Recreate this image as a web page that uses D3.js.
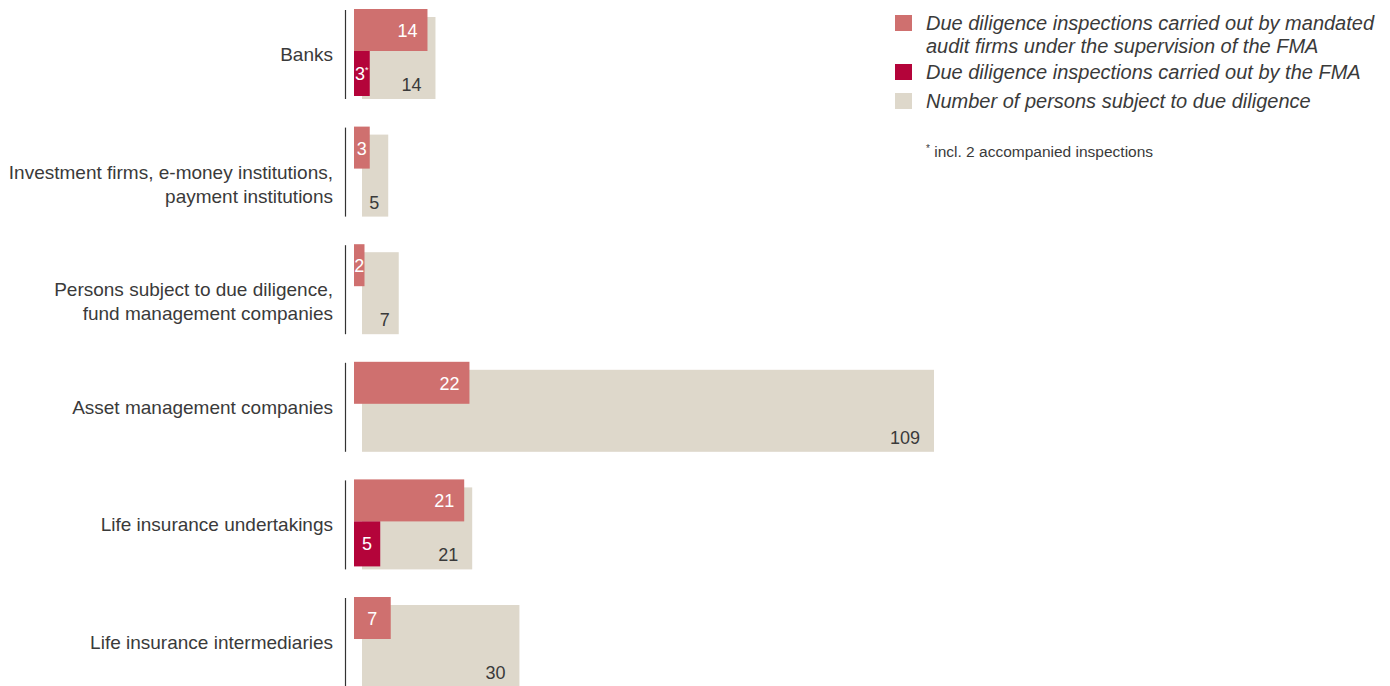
<!DOCTYPE html>
<html>
<head>
<meta charset="utf-8">
<script src="https://cdn.jsdelivr.net/npm/d3@7.9.0/dist/d3.min.js"></script>
<style>
  body { margin: 0; background: #fff; }
  svg { display: block; font-family: "Liberation Sans", "Arial", sans-serif; }
</style>
</head>
<body>
<svg id="chart" width="1390" height="686"></svg>
<script>
// categories, one array of lines per label
const categories = [
  ['Banks'],
  ['Investment firms, e-money institutions,', 'payment institutions'],
  ['Persons subject to due diligence,', 'fund management companies'],
  ['Asset management companies'],
  ['Life insurance undertakings'],
  ['Life insurance intermediaries']
];
const mandated = [14, 3, 2, 22, 21, 7];
const fma = [3, null, null, null, 5, null];
const fmaNotes = ['*', '', '', '', '', ''];
const persons = [14, 5, 7, 109, 21, 30];

const legendItems = [
  ['Due diligence inspections carried out by mandated', 'audit firms under the supervision of the FMA'],
  ['Due diligence inspections carried out by the FMA'],
  ['Number of persons subject to due diligence']
];
const footnote = 'incl. 2 accompanied inspections';

const colors = { mandated: '#cf706f', fma: '#b4043a', persons: '#ded8cb', text: '#3a3a3a' };

const svg = d3.select('#chart');
const keys = categories.map((c, i) => i);

const y = d3.scaleBand().domain(keys).range([9, 687]).paddingInner(0.2347).paddingOuter(0);
const x = d3.scaleLinear().domain([0, 109]).range([0, 572]);

const barX = 354;        // mandated / fma bars
const personsX = 362;    // persons bars, shifted right

const groups = svg.selectAll('g.grp').data(keys).join('g')
  .attr('class', 'grp')
  .attr('transform', d => `translate(0,${y(d)})`);

// axis line per group
groups.append('line')
  .attr('x1', 345.5).attr('x2', 345.5)
  .attr('y1', 1).attr('y2', 90)
  .attr('stroke', '#333').attr('stroke-width', 1.2);

// category labels
groups.each(function (i) {
  const t = d3.select(this).append('text')
    .attr('x', 333).attr('text-anchor', 'end')
    .attr('font-size', 19).attr('fill', colors.text);
  categories[i].forEach((line, k) => {
    t.append('tspan').attr('x', 333).attr('y', 52 + k * 24).text(line);
  });
});

// persons bars
groups.append('rect')
  .attr('x', personsX).attr('y', 8)
  .attr('width', i => x(persons[i])).attr('height', 82)
  .attr('fill', colors.persons);

groups.append('text')
  .attr('x', i => personsX + x(persons[i]) - (persons[i] < 10 ? 9 : 14))
  .attr('y', 82)
  .attr('text-anchor', 'end')
  .attr('font-size', 18).attr('fill', colors.text)
  .text(i => persons[i]);

// mandated bars
groups.append('rect')
  .attr('x', barX).attr('y', 0)
  .attr('width', i => x(mandated[i])).attr('height', 42)
  .attr('fill', colors.mandated);

groups.append('text')
  .attr('x', i => x(mandated[i]) < 40 ? barX + x(mandated[i]) / 2 : barX + x(mandated[i]) - 10)
  .attr('y', 28)
  .attr('text-anchor', i => x(mandated[i]) < 40 ? 'middle' : 'end')
  .attr('font-size', 18).attr('fill', '#fff')
  .text(i => mandated[i]);

// fma bars
const fg = groups.filter(i => fma[i] != null);
fg.append('rect')
  .attr('x', barX).attr('y', 42)
  .attr('width', i => x(fma[i])).attr('height', 45)
  .attr('fill', colors.fma);

const ft = fg.append('text')
  .attr('x', i => barX + x(fma[i]) / 2)
  .attr('y', 71)
  .attr('text-anchor', 'middle')
  .attr('font-size', 18).attr('fill', '#fff');
ft.append('tspan').text(i => fma[i]);
ft.append('tspan').attr('dy', -7).attr('font-size', 9).text(i => fmaNotes[i]);

// legend
const legend = svg.append('g').attr('transform', 'translate(895,0)');
const legendColors = [colors.mandated, colors.fma, colors.persons];
const legendTops = [15, 64, 93];
legendItems.forEach((lines, k) => {
  legend.append('rect')
    .attr('x', 0).attr('y', legendTops[k])
    .attr('width', 17).attr('height', 16)
    .attr('fill', legendColors[k]);
  const t = legend.append('text')
    .attr('font-size', 20).attr('font-style', 'italic').attr('fill', colors.text);
  lines.forEach((line, j) => {
    t.append('tspan').attr('x', 31).attr('y', legendTops[k] + 15 + j * 23).text(line);
  });
});

const fn = legend.append('text')
  .attr('x', 31).attr('y', 157)
  .attr('font-size', 15.5).attr('fill', colors.text);
fn.append('tspan').attr('font-size', 10).attr('dy', -5).text('*');
fn.append('tspan').attr('dy', 5).text(' ' + footnote);
</script>
</body>
</html>
